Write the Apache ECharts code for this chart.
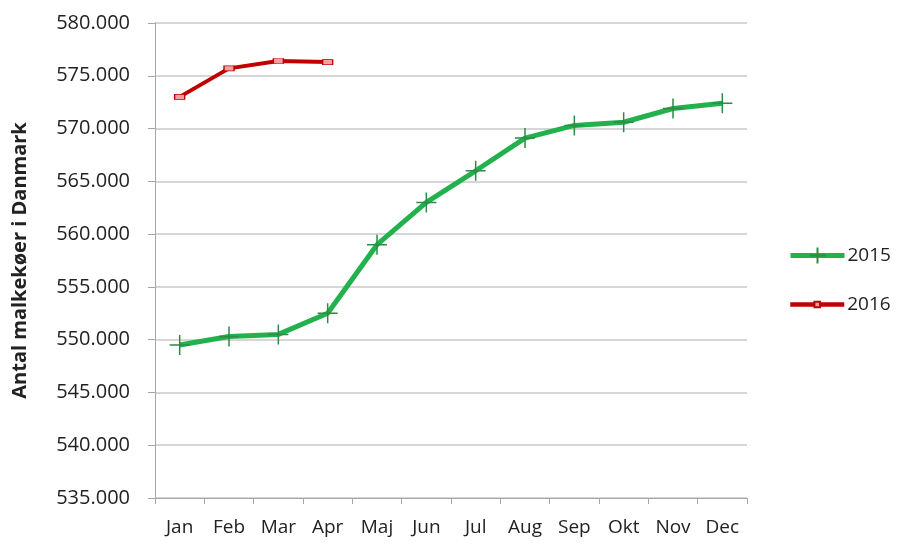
<!DOCTYPE html>
<html>
<head>
<meta charset="utf-8">
<script src="https://cdn.jsdelivr.net/npm/echarts@6/dist/echarts.min.js"></script>
<style>
  html, body { margin: 0; padding: 0; background: #fff; }
  #chart { width: 897px; height: 544px; }
</style>
</head>
<body>
<div id="chart"></div>
<script>
// maaneder
var months = ['Jan', 'Feb', 'Mar', 'Apr', 'Maj', 'Jun', 'Jul', 'Aug', 'Sep', 'Okt', 'Nov', 'Dec'];
// antal malkekoer
var cows2015 = [549500, 550300, 550500, 552500, 559000, 563000, 566000, 569100, 570300, 570600, 571900, 572400];
var cows2016 = [573000, 575700, 576400, 576300];

var font = "'Open Sans', 'Liberation Sans', sans-serif";

// 580000 -> 580.000
function fmt(v) {
  var s = String(Math.round(v));
  return s.replace(/\B(?=(\d{3})+(?!\d))/g, '.');
}

var legendText = { fontFamily: font, fontSize: 19, color: '#222', padding: [0, 0, 0, -2] };

var myChart = echarts.init(document.getElementById('chart'));
var option = {
  animation: false,
  backgroundColor: '#fff',
  grid: { left: 155, right: 150, top: 23, bottom: 46 },
  legend: [{
    orient: 'vertical',
    left: 783,
    top: 241,
    itemWidth: 54,
    itemHeight: 20,
    lineStyle: { width: 5 },
    textStyle: legendText,
    data: ['2015']
  }, {
    orient: 'vertical',
    left: 783,
    top: 290,
    itemWidth: 54,
    itemHeight: 7,
    lineStyle: { width: 4.5 },
    textStyle: legendText,
    data: ['2016']
  }],
  xAxis: {
    type: 'category',
    data: months,
    boundaryGap: true,
    axisLine: { lineStyle: { color: '#a6a6a6', width: 1 } },
    axisTick: { show: true, length: 6, inside: false, lineStyle: { color: '#a6a6a6' } },
    axisLabel: { fontFamily: font, fontSize: 19, color: '#222', margin: 20, interval: 0 }
  },
  yAxis: {
    type: 'value',
    min: 535000,
    max: 580000,
    interval: 5000,
    name: 'Antal malkekøer i Danmark',
    nameLocation: 'middle',
    nameGap: 125,
    nameRotate: 90,
    nameTextStyle: { fontFamily: font, fontSize: 20, fontWeight: 'bold', color: '#222' },
    axisLine: { show: true, lineStyle: { color: '#a6a6a6', width: 1 } },
    axisTick: { show: true, length: 7, lineStyle: { color: '#a6a6a6' } },
    axisLabel: { fontFamily: font, fontSize: 20, color: '#222', margin: 25, formatter: fmt },
    splitLine: { lineStyle: { color: '#c8c8c8', width: 1.5 } }
  },
  series: [{
    name: '2015',
    type: 'line',
    data: cows2015,
    symbol: 'path://M0,10L20,10M10,0L10,20',
    symbolSize: 20,
    showAllSymbol: true,
    lineStyle: { color: '#22b14c', width: 5 },
    itemStyle: { color: '#22b14c', borderColor: '#2f8a45', borderWidth: 1.5 }
  }, {
    name: '2016',
    type: 'line',
    data: cows2016,
    symbol: 'rect',
    symbolSize: [10, 5],
    showAllSymbol: true,
    lineStyle: { color: '#c00000', width: 4 },
    itemStyle: { color: '#f4a0a0', borderColor: '#c00000', borderWidth: 1 }
  }]
};
myChart.setOption(option);
</script>
</body>
</html>
